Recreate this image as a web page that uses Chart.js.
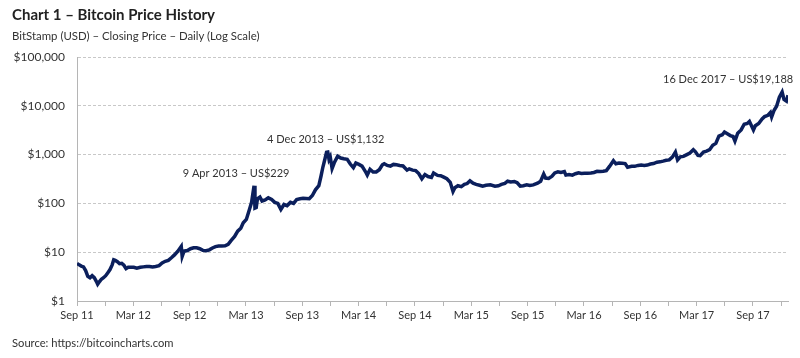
<!DOCTYPE html>
<html lang="en">
<head>
    <meta charset="UTF-8">
    <title>Bitcoin Price History</title>
    <script src="https://cdn.jsdelivr.net/npm/chart.js"></script>
    <style>
        body { margin: 0; background: #fff; font-family: Lato, "Noto Sans", sans-serif; color: #222; }
        .wrap { position: relative; width: 800px; height: 358px; }
        .title { position: absolute; left: 12px; top: 5px; font-size: 15px; font-weight: bold; }
        .sub { position: absolute; left: 12px; top: 29px; font-size: 11.4px; color: #333; }
        .source { position: absolute; left: 12px; top: 336px; font-size: 11.2px; color: #333; }
        canvas { position: absolute; left: 0; top: 0; }
    </style>
</head>
<body>
<div class="wrap">
    <canvas id="myChart" width="800" height="358"></canvas>
    <div class="title">Chart 1 – Bitcoin Price History</div>
    <div class="sub">BitStamp (USD) – Closing Price – Daily (Log Scale)</div>
    <div class="source">Source: https://bitcoincharts.com</div>
</div>

<script>
// closing prices
const dates = [
    '2011-09-13','2011-09-20','2011-09-27','2011-10-04','2011-10-11','2011-10-18','2011-10-25',
    '2011-11-01','2011-11-08','2011-11-15','2011-11-19','2011-11-25','2011-12-01','2011-12-08',
    '2011-12-15','2011-12-22','2011-12-29',
    '2012-01-05','2012-01-10','2012-01-15','2012-01-22','2012-01-29','2012-02-05','2012-02-12',
    '2012-02-19','2012-02-26','2012-03-04','2012-03-15','2012-03-25','2012-04-05','2012-04-15',
    '2012-04-25','2012-05-05','2012-05-15','2012-05-25','2012-06-05','2012-06-15','2012-06-25',
    '2012-07-05','2012-07-15','2012-07-25','2012-08-05','2012-08-16','2012-08-19','2012-08-25',
    '2012-09-05','2012-09-15','2012-09-25','2012-10-05','2012-10-15','2012-10-25','2012-11-05',
    '2012-11-15','2012-11-25','2012-12-05','2012-12-15','2012-12-25',
    '2013-01-05','2013-01-15','2013-01-25','2013-02-05','2013-02-15','2013-02-25','2013-03-05',
    '2013-03-15','2013-03-25','2013-04-01','2013-04-09','2013-04-12','2013-04-16','2013-04-20',
    '2013-04-28','2013-05-05','2013-05-15','2013-05-25','2013-06-05','2013-06-15','2013-06-25',
    '2013-07-05','2013-07-15','2013-07-25','2013-08-05','2013-08-15','2013-08-25','2013-09-05',
    '2013-09-15','2013-09-25','2013-10-05','2013-10-15','2013-10-25','2013-11-05','2013-11-12',
    '2013-11-18','2013-11-25','2013-11-30','2013-12-04','2013-12-08','2013-12-12','2013-12-18',
    '2013-12-25',
    '2014-01-05','2014-01-15','2014-01-25','2014-02-05','2014-02-15','2014-02-25','2014-03-05',
    '2014-03-15','2014-03-25','2014-04-05','2014-04-11','2014-04-20','2014-04-30','2014-05-10',
    '2014-05-20','2014-05-30','2014-06-05','2014-06-15','2014-06-25','2014-07-05','2014-07-15',
    '2014-07-25','2014-08-05','2014-08-18','2014-08-25','2014-09-05','2014-09-15','2014-09-25',
    '2014-10-05','2014-10-15','2014-10-25','2014-11-05','2014-11-12','2014-11-25','2014-12-05',
    '2014-12-15','2014-12-25',
    '2015-01-05','2015-01-14','2015-01-20','2015-01-30','2015-02-10','2015-02-20','2015-03-01',
    '2015-03-10','2015-03-20','2015-03-30','2015-04-10','2015-04-20','2015-05-01','2015-05-15',
    '2015-05-30','2015-06-10','2015-06-20','2015-07-01','2015-07-10','2015-07-20','2015-08-01',
    '2015-08-10','2015-08-20','2015-08-30','2015-09-10','2015-09-20','2015-10-01','2015-10-15',
    '2015-10-25','2015-11-04','2015-11-10','2015-11-20','2015-12-01','2015-12-10','2015-12-20',
    '2015-12-30',
    '2016-01-10','2016-01-15','2016-01-25','2016-02-05','2016-02-15','2016-02-25','2016-03-05',
    '2016-03-15','2016-03-25','2016-04-05','2016-04-15','2016-04-25','2016-05-05','2016-05-15',
    '2016-05-25','2016-06-05','2016-06-17','2016-06-25','2016-07-05','2016-07-15','2016-07-25',
    '2016-08-02','2016-08-15','2016-08-25','2016-09-05','2016-09-15','2016-09-25','2016-10-05',
    '2016-10-15','2016-10-25','2016-11-05','2016-11-15','2016-11-25','2016-12-05','2016-12-15',
    '2016-12-25',
    '2017-01-04','2017-01-11','2017-01-20','2017-01-30','2017-02-10','2017-02-20','2017-03-03',
    '2017-03-10','2017-03-18','2017-03-25','2017-04-05','2017-04-15','2017-04-25','2017-05-05',
    '2017-05-15','2017-05-25','2017-06-05','2017-06-12','2017-06-20','2017-07-01','2017-07-10',
    '2017-07-16','2017-07-25','2017-08-05','2017-08-15','2017-08-25','2017-09-01','2017-09-14',
    '2017-09-20','2017-10-01','2017-10-12','2017-10-20','2017-10-31','2017-11-08','2017-11-12',
    '2017-11-20','2017-11-28','2017-12-07','2017-12-16','2017-12-22','2017-12-30','2018-01-04'
];
const prices = [
    5.9, 5.5, 5.2, 5.0, 4.2, 3.2, 3.0,
    3.3, 3.0, 2.5, 2.2, 2.5, 2.8, 3.0,
    3.3, 3.8, 4.4,
    5.5, 7.0, 6.8, 6.4, 5.8, 5.9, 5.4,
    4.6, 4.9, 4.9, 4.9, 4.7, 4.9, 5.0,
    5.1, 5.1, 5.0, 5.1, 5.3, 6.0, 6.5,
    6.8, 7.7, 8.8, 10.5, 13.2, 8.2, 10.5,
    10.8, 11.8, 12.3, 12.3, 11.8, 10.9, 10.7,
    11.2, 12.2, 13.0, 13.4, 13.4,
    13.5, 14.5, 17.5, 21, 27, 31, 40,
    47, 75, 105, 229, 80, 82, 125,
    135, 112, 118, 130, 120, 105, 100,
    75, 95, 90, 105, 100, 120, 124,
    127, 126, 125, 145, 190, 230, 360,
    550, 820, 1120, 1132, 800, 900, 520,
    680,
    930, 850, 820, 800, 640, 540, 670,
    630, 580, 450, 380, 500, 440, 440,
    490, 620, 650, 600, 580, 630, 620,
    600, 585, 480, 510, 480, 470, 410,
    320, 390, 355, 340, 420, 375, 370,
    345, 320,
    270, 175, 210, 230, 220, 245, 255,
    290, 260, 245, 235, 225, 235, 240,
    225, 230, 245, 258, 285, 275, 280,
    265, 225, 230, 240, 232, 240, 260,
    285, 400, 330, 325, 360, 420, 445,
    430,
    450, 380, 390, 380, 405, 425, 410,
    415, 415, 420, 430, 455, 450, 455,
    470, 580, 750, 650, 670, 665, 655,
    550, 575, 575, 600, 610, 600, 610,
    640, 655, 700, 710, 735, 765, 780,
    890,
    1130, 780, 900, 920, 1000, 1080, 1260,
    1140, 960, 950, 1130, 1180, 1260, 1550,
    1700, 2400, 2550, 2900, 2700, 2450, 2350,
    1900, 2750, 3200, 4200, 4350, 4800, 3200,
    3900, 4350, 5400, 6000, 6400, 7300, 5900,
    8100, 9800, 15000, 19188, 13500, 12500, 16500
];

const tickLabels = ['Sep 11','Mar 12','Sep 12','Mar 13','Sep 13','Mar 14','Sep 14',
                    'Mar 15','Sep 15','Mar 16','Sep 16','Mar 17','Sep 17'];
const yTicks = [1, 10, 100, 1000, 10000, 100000];

const notes = [
    { date: '2013-04-09', value: 229, text: '9 Apr 2013 – US$229' },
    { date: '2013-12-04', value: 1132, text: '4 Dec 2013 – US$1,132' },
    { date: '2017-12-16', value: 19188, text: '16 Dec 2017 – US$19,188' }
];

const start = Date.UTC(2011, 8, 13);
function dayOf(s) {
    const p = s.split('-');
    return (Date.UTC(+p[0], +p[1] - 1, +p[2]) - start) / 86400000;
}
const quarter = 365.25 / 4;
const points = dates.map((d, i) => ({ x: dayOf(d), y: prices[i] }));

const fontFam = 'Lato, "Noto Sans", sans-serif';

// annotation text next to the peaks
const notePlugin = {
    id: 'notes',
    afterDatasetsDraw(chart) {
        const ctx = chart.ctx;
        const xs = chart.scales.x, ys = chart.scales.y;
        ctx.save();
        ctx.font = '11px ' + fontFam;
        ctx.fillStyle = '#333';
        ctx.textBaseline = 'middle';
        notes.forEach((n, i) => {
            const px = xs.getPixelForValue(dayOf(n.date));
            const py = ys.getPixelForValue(n.value);
            if (i == 2) {
                ctx.textAlign = 'right';
                ctx.fillText(n.text, px + 11, py - 13);
            } else if (i == 0) {
                ctx.textAlign = 'center';
                ctx.fillText(n.text, px - 18, py - 12);
            } else {
                ctx.textAlign = 'center';
                ctx.fillText(n.text, px - 2, py - 13);
            }
        });
        ctx.restore();
    }
};

const ctx = document.getElementById('myChart').getContext('2d');
const myChart = new Chart(ctx, {
    type: 'line',
    data: {
        datasets: [{
            label: 'BitStamp close',
            data: points,
            borderColor: '#0b1f5c',
            borderWidth: 3.5,
            pointRadius: 0,
            tension: 0,
            fill: false
        }]
    },
    plugins: [notePlugin],
    options: {
        responsive: false,
        animation: false,
        layout: { padding: { top: 57, right: 12, left: 0, bottom: 0 } },
        plugins: { legend: { display: false }, tooltip: { enabled: false } },
        scales: {
            x: {
                type: 'linear',
                min: 0,
                max: 2305,
                afterBuildTicks: (s) => {
                    const t = [];
                    for (let i = 0; i <= 25; i++) t.push({ value: i * quarter });
                    s.ticks = t;
                },
                afterFit: (s) => { s.height = 57; },
                grid: { drawOnChartArea: false, drawTicks: true, tickLength: 5, color: '#b5b5b5' },
                border: { color: '#b5b5b5', width: 1 },
                ticks: {
                    autoSkip: false,
                    maxRotation: 0,
                    padding: 3,
                    color: '#333',
                    font: { family: fontFam, size: 11 },
                    callback: (v, i) => (i % 2 == 0 ? tickLabels[i / 2] : '')
                }
            },
            y: {
                type: 'logarithmic',
                min: 1,
                max: 100000,
                afterBuildTicks: (s) => { s.ticks = yTicks.map(v => ({ value: v })); },
                afterFit: (s) => { s.width = 77; },
                grid: {
                    drawTicks: false,
                    color: (c) => (c.tick && c.tick.value == 1 ? 'rgba(0,0,0,0)' : '#c8c8c8')
                },
                border: { color: '#b5b5b5', width: 1, dash: [3, 2] },
                ticks: {
                    padding: 12,
                    color: '#333',
                    font: { family: fontFam, size: 12 },
                    callback: (v) => '$' + Number(v).toLocaleString('en-US')
                }
            }
        }
    }
});
</script>
</body>
</html>
